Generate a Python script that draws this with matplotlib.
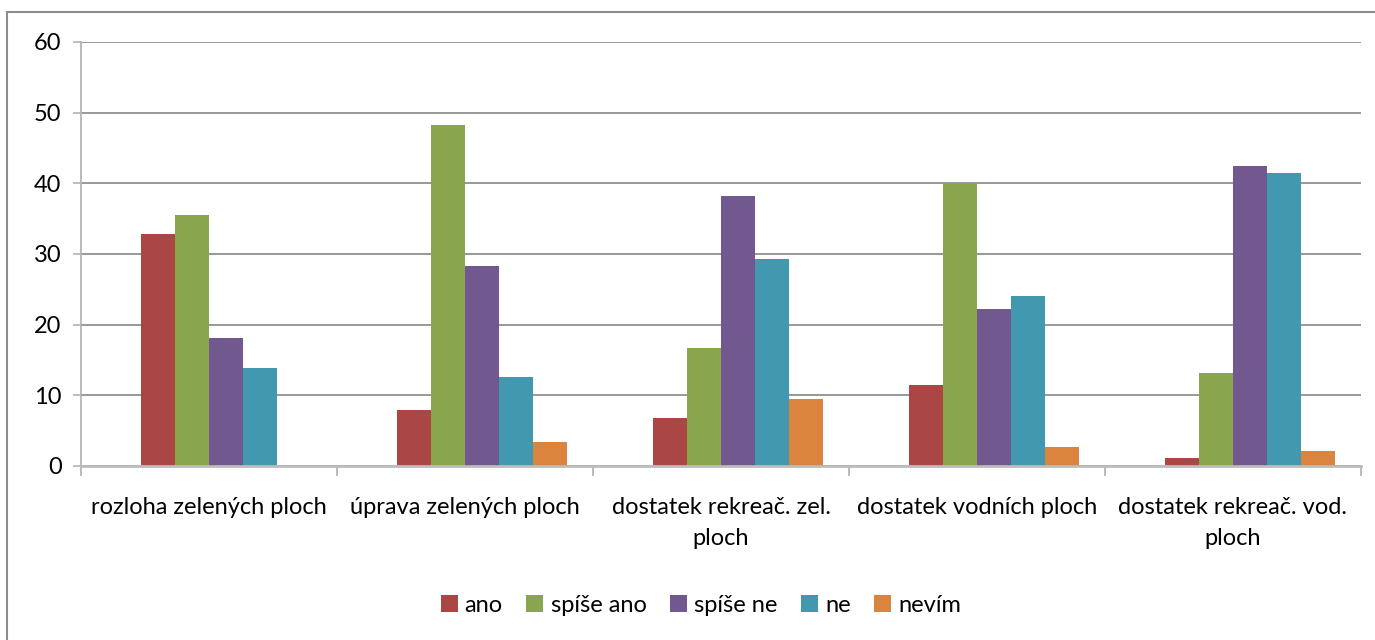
import numpy as np
import matplotlib
matplotlib.use('Agg')
import matplotlib.pyplot as plt
from matplotlib.patches import Rectangle

plt.rcParams['font.family'] = ['Lato', 'DejaVu Sans']

categories = ['rozloha zelených ploch', 'úprava zelených ploch',
              'dostatek rekreač. zel.\nploch', 'dostatek vodních ploch',
              'dostatek rekreač. vod.\nploch']
series_names = ['ano', 'spíše ano', 'spíše ne', 'ne', 'nevím']
colors = ['#AA4643', '#89A54E', '#71588F', '#4198AF', '#DB843D']

ano = [32.9, 7.9, 6.8, 11.4, 1.1]
spise_ano = [35.5, 48.2, 16.7, 40.0, 13.2]
spise_ne = [18.1, 28.3, 38.2, 22.2, 42.5]
ne = [13.9, 12.6, 29.3, 24.1, 41.4]
nevim = [0.0, 3.4, 9.5, 2.7, 2.1]
values = [ano, spise_ano, spise_ne, ne, nevim]

fig = plt.figure(figsize=(13.75, 6.4), dpi=100)
ax = fig.add_axes([81 / 1375, 1 - 466 / 640, 1280 / 1375, 424 / 640])

# excel layout: 6 slots per group (first one empty), gap 150 %
n_slots = 6
w = 1.0 / (n_slots + 1.5)
x = np.arange(len(categories))
for i, (name, vals, col) in enumerate(zip(series_names, values, colors)):
    slot = i + 1
    off = (slot - (n_slots - 1) / 2) * w
    ax.bar(x + off, vals, width=w, color=col, label=name, linewidth=0)

ax.set_xlim(-0.5, len(categories) - 0.5)
ax.set_ylim(0, 60)
ax.set_yticks(range(0, 61, 10))
ax.yaxis.grid(True, color='#868686', linewidth=1.2)
ax.set_axisbelow(True)

for s in ['top', 'right']:
    ax.spines[s].set_visible(False)
ax.spines['left'].set_color('#b4b4b4')
ax.spines['left'].set_linewidth(1.3)
ax.spines['bottom'].set_color('#bcbcbc')
ax.spines['bottom'].set_linewidth(2)

ax.set_xticks(x)
ax.set_xticklabels(categories, fontsize=17, linespacing=1.6)
ax.tick_params(axis='x', which='major', length=0, pad=22)
ax.set_xticks(np.arange(-0.5, len(categories)), minor=True)
ax.tick_params(axis='x', which='minor', length=7, width=1.5, color='#bcbcbc')
ax.tick_params(axis='y', length=6, width=1.2, color='#b4b4b4', labelsize=17, pad=8)

fig.legend(loc='center', bbox_to_anchor=(701 / 1375, 1 - 605 / 640), ncol=5,
           frameon=False, fontsize=17, handlelength=0.72, handleheight=0.72,
           handletextpad=0.3, columnspacing=1.0)

fig.patches.append(Rectangle((7 / 1375, -0.01), 1.1, 1 - 12 / 640 + 0.01,
                             transform=fig.transFigure, fill=False,
                             edgecolor='#8c8c8c', linewidth=1.5))

fig.savefig('out.png', dpi=100)
